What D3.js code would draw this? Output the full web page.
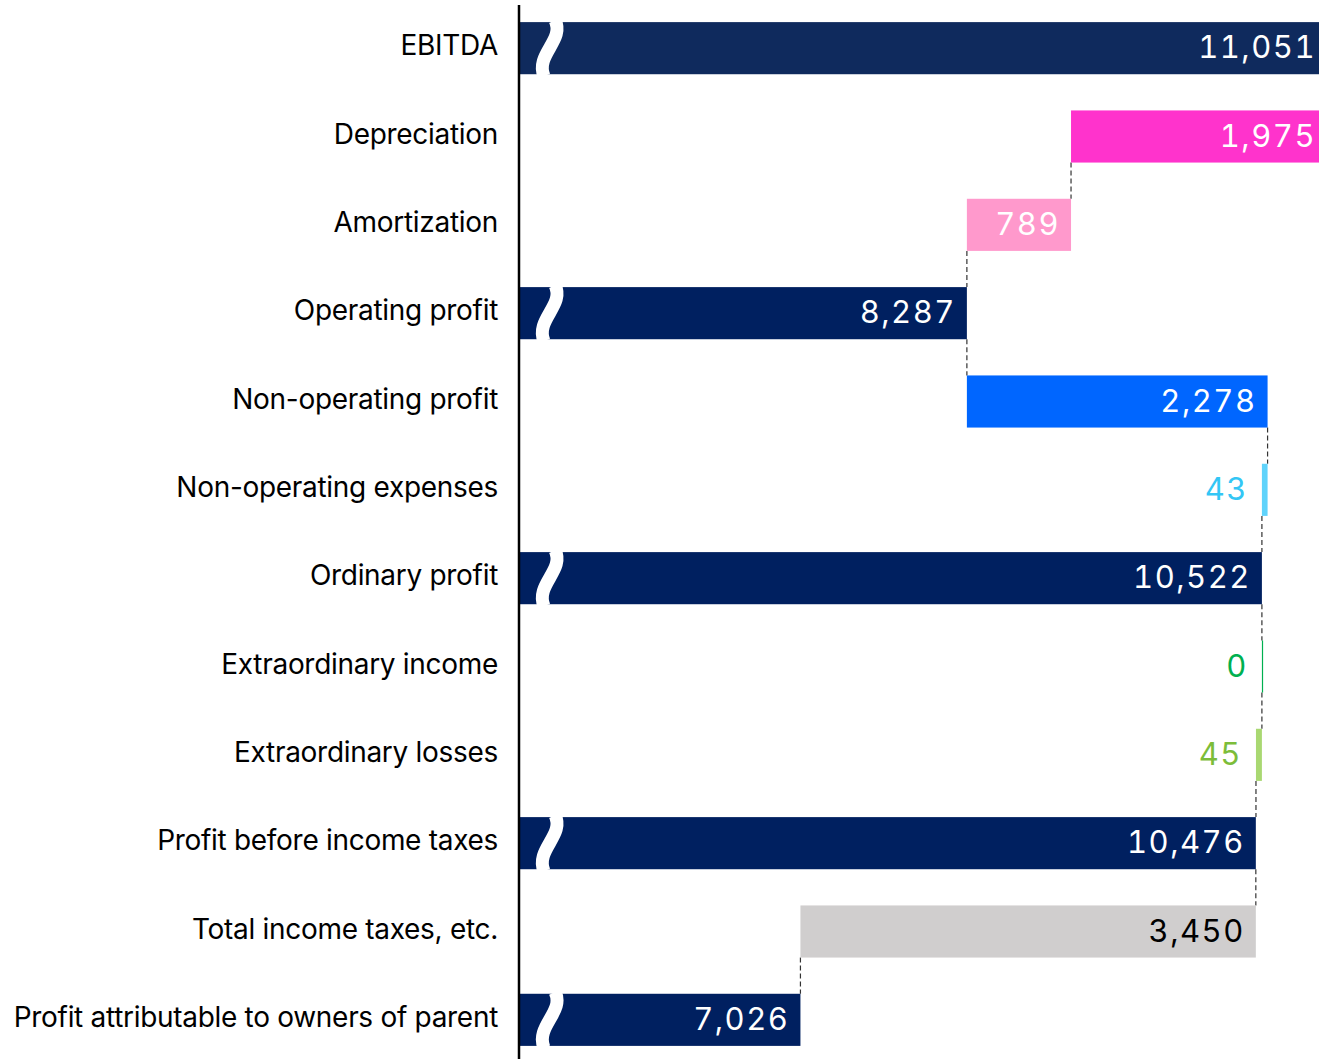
<!DOCTYPE html>
<html lang="en">
    <head>
        <meta charset="utf-8">
        <title>Waterfall: EBITDA to profit</title>
        <script src="https://d3js.org/d3.v7.min.js"></script>
        <style type="text/css">
         body { margin: 0; background: #fff; }
         text { font-family: Inter, "Noto Sans", sans-serif; }
        </style>
    </head>
    <body>
        <script>
         //Data
         var categories = ["EBITDA", "Depreciation", "Amortization", "Operating profit",
                           "Non-operating profit", "Non-operating expenses", "Ordinary profit",
                           "Extraordinary income", "Extraordinary losses", "Profit before income taxes",
                           "Total income taxes, etc.", "Profit attributable to owners of parent"];
         var values = [11051, 1975, 789, 8287, 2278, 43, 10522, 0, 45, 10476, 3450, 7026];
         var kinds = ["total", "down", "down", "total", "up", "down", "total", "up", "down", "total", "down", "total"];
         var barColors = ["#0f2a5d", "#ff33cc", "#ff99cc", "#002060", "#0066ff", "#5fd3fb", "#002060",
                          "#00b050", "#a9d872", "#002060", "#d0cece", "#002060"];
         var labelColors = ["#fff", "#fff", "#fff", "#fff", "#fff", "#33c6f5", "#fff",
                            "#00b050", "#7cbd3a", "#fff", "#000", "#fff"];

         var width = 1319;
         var height = 1059;
         var axisX = 518;

         var svg = d3.select("body")
                     .append("svg")
                     .attr("width", width)
                     .attr("height", height);

         //Scales (the value axis is broken at the left edge of the plot)
         var x = d3.scaleLinear()
                   .domain([0, 10000])
                   .range([-127, 1193]);

         var y = d3.scaleBand()
                   .domain(categories)
                   .range([4, 1064])
                   .paddingInner(0.41)
                   .paddingOuter(0.205);

         //Running totals -> bar extents
         var level = 0;
         var bars = categories.map(function(c, i) {
             var v = values[i], a, b;
             if (kinds[i] === "total") { a = 0; b = v; level = v; }
             else if (kinds[i] === "up") { a = level; b = level + v; level = b; }
             else { a = level - v; b = level; level = a; }
             return { cat: c, value: v, kind: kinds[i], lo: Math.min(a, b), hi: Math.max(a, b), level: level, i: i };
         });

         svg.append("clipPath")
            .attr("id", "plot")
            .append("rect")
            .attr("x", axisX)
            .attr("y", 0)
            .attr("width", width - axisX)
            .attr("height", height);

         var plot = svg.append("g").attr("clip-path", "url(#plot)");

         //Connectors
         plot.selectAll("line.conn")
             .data(bars.slice(0, -1))
             .enter()
             .append("line")
             .attr("class", "conn")
             .attr("x1", function(d) { return x(d.level); })
             .attr("x2", function(d) { return x(d.level); })
             .attr("y1", function(d) { return y(d.cat) + y.bandwidth(); })
             .attr("y2", function(d) { return y(categories[d.i + 1]); })
             .attr("stroke", "#333")
             .attr("stroke-width", 1.2)
             .attr("stroke-dasharray", "5,3");

         //Bars
         plot.selectAll("rect.bar")
             .data(bars)
             .enter()
             .append("rect")
             .attr("class", "bar")
             .attr("x", function(d) { return x(d.lo); })
             .attr("y", function(d) { return y(d.cat); })
             .attr("width", function(d) { return Math.max(1.2, x(d.hi) - x(d.lo)); })
             .attr("height", y.bandwidth())
             .style("fill", function(d, i) { return barColors[i]; });

         //Break marks on the total bars
         var h = y.bandwidth();
         plot.selectAll("path.break")
             .data(bars.filter(function(d) { return d.kind === "total"; }))
             .enter()
             .append("path")
             .attr("class", "break")
             .attr("d", function(d) {
                 var t = y(d.cat);
                 return "M555," + (t - 2) + " C565," + (t + h * 0.35) + " 535," + (t + h * 0.62) + " 544," + (t + h + 2);
             })
             .attr("fill", "none")
             .attr("stroke", "#fff")
             .attr("stroke-width", 13);

         //Value labels
         plot.selectAll("text.val")
             .data(bars)
             .enter()
             .append("text")
             .attr("class", "val")
             .attr("x", function(d) {
                 var w = x(d.hi) - x(d.lo);
                 return w > 60 ? Math.min(x(d.hi) - 11, width - 3) : x(d.lo) - 14;
             })
             .attr("y", function(d) { return y(d.cat) + h / 2; })
             .attr("dy", "0.33em")
             .attr("text-anchor", "end")
             .style("font-size", "31px")
             .style("letter-spacing", "1.5px")
             .style("font-feature-settings", "'tnum'")
             .style("fill", function(d, i) { return labelColors[i]; })
             .text(function(d) { return d3.format(",")(d.value); });

         //Category labels
         svg.selectAll("text.cat")
            .data(categories)
            .enter()
            .append("text")
            .attr("class", "cat")
            .attr("x", axisX - 20)
            .attr("y", function(d) { return y(d) + h / 2; })
            .attr("dy", "0.25em")
            .attr("text-anchor", "end")
            .style("font-size", "28px")
            .style("letter-spacing", "-0.3px")
            .style("fill", "#000")
            .text(function(d) { return d; });

         //Axis line
         svg.append("line")
            .attr("x1", axisX + 1)
            .attr("x2", axisX + 1)
            .attr("y1", 5)
            .attr("y2", height)
            .attr("stroke", "#000")
            .attr("stroke-width", 2.5);
        </script>
    </body>
</html>
